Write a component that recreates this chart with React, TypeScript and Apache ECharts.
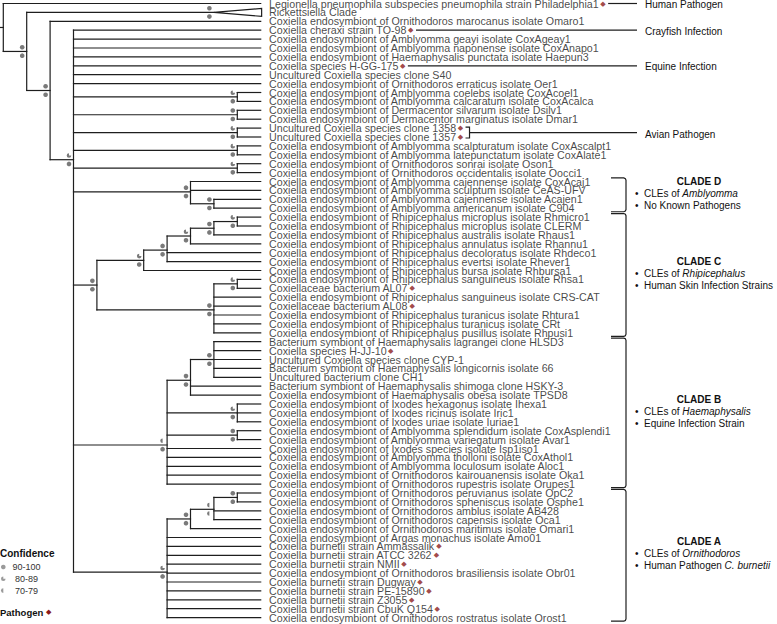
import React, { useEffect, useRef } from "react";
import * as echarts from "echarts";

const LEAF_NAMES: string[] = [
  "Legionella pneumophila subspecies pneumophila strain Philadelphia1",
  "Rickettsiella Clade",
  "Coxiella endosymbiont of Ornithodoros marocanus isolate Omaro1",
  "Coxiella cheraxi strain TO-98",
  "Coxiella endosymbiont of Amblyomma geayi isolate CoxAgeay1",
  "Coxiella endosymbiont of Amblyomma naponense isolate CoxAnapo1",
  "Coxiella endosymbiont of Haemaphysalis punctata isolate Haepun3",
  "Coxiella species H-GG-175",
  "Uncultured Coxiella species clone S40",
  "Coxiella endosymbiont of Ornithodoros erraticus isolate Oer1",
  "Coxiella endosymbiont of Amblyomma coelebs isolate CoxAcoel1",
  "Coxiella endosymbiont of Amblyomma calcaratum isolate CoxAcalca",
  "Coxiella endosymbiont of Dermacentor silvarum isolate Dsilv1",
  "Coxiella endosymbiont of Dermacentor marginatus isolate Dmar1",
  "Uncultured Coxiella species clone 1358",
  "Uncultured Coxiella species clone 1357",
  "Coxiella endosymbiont of Amblyomma scalpturatum isolate CoxAscalpt1",
  "Coxiella endosymbiont of Amblyomma latepunctatum isolate CoxAlate1",
  "Coxiella endosymbiont of Ornithodoros sonrai isolate Oson1",
  "Coxiella endosymbiont of Ornithodoros occidentalis isolate Oocci1",
  "Coxiella endosymbiont of Amblyomma cajennense isolate CoxAcaj1",
  "Coxiella endosymbiont of Amblyomma sculptum isolate CeAS-UFV",
  "Coxiella endosymbiont of Amblyomma cajennense isolate Acajen1",
  "Coxiella endosymbiont of Amblyomma americanum isolate C904",
  "Coxiella endosymbiont of Rhipicephalus microplus isolate Rhmicro1",
  "Coxiella endosymbiont of Rhipicephalus microplus isolate CLERM",
  "Coxiella endosymbiont of Rhipicephalus australis isolate Rhaus1",
  "Coxiella endosymbiont of Rhipicephalus annulatus isolate Rhannu1",
  "Coxiella endosymbiont of Rhipicephalus decoloratus isolate Rhdeco1",
  "Coxiella endosymbiont of Rhipicephalus evertsi isolate Rhever1",
  "Coxiella endosymbiont of Rhipicephalus bursa isolate Rhbursa1",
  "Coxiella endosymbiont of Rhipicephalus sanguineus isolate Rhsa1",
  "Coxiellaceae bacterium AL07",
  "Coxiella endosymbiont of Rhipicephalus sanguineus isolate CRS-CAT",
  "Coxiellaceae bacterium AL08",
  "Coxiella endosymbiont of Rhipicephalus turanicus isolate Rhtura1",
  "Coxiella endosymbiont of Rhipicephalus turanicus isolate CRt",
  "Coxiella endosymbiont of Rhipicephalus pusillus isolate Rhpusi1",
  "Bacterium symbiont of Haemaphysalis lagrangei clone HLSD3",
  "Coxiella species H-JJ-10",
  "Uncultured Coxiella species clone CYP-1",
  "Bacterium symbiont of Haemaphysalis longicornis isolate 66",
  "Uncultured bacterium clone CH1",
  "Bacterium symbiont of Haemaphysalis shimoga clone HSKY-3",
  "Coxiella endosymbiont of Haemaphysalis obesa isolate TPSD8",
  "Coxiella endosymbiont of Ixodes hexagonus isolate Ihexa1",
  "Coxiella endosymbiont of Ixodes ricinus isolate Iric1",
  "Coxiella endosymbiont of Ixodes uriae isolate Iuriae1",
  "Coxiella endosymbiont of Amblyomma splendidum isolate CoxAsplendi1",
  "Coxiella endosymbiont of Amblyomma variegatum isolate Avar1",
  "Coxiella endosymbiont of Ixodes species isolate Isp1iso1",
  "Coxiella endosymbiont of Amblyomma tholloni isolate CoxAthol1",
  "Coxiella endosymbiont of Amblyomma loculosum isolate Aloc1",
  "Coxiella endosymbiont of Ornithodoros kairouanensis isolate Oka1",
  "Coxiella endosymbiont of Ornithodoros rupestris isolate Orupes1",
  "Coxiella endosymbiont of Ornithodoros peruvianus isolate OpC2",
  "Coxiella endosymbiont of Ornithodoros spheniscus isolate Osphe1",
  "Coxiella endosymbiont of Ornithodoros amblus isolate AB428",
  "Coxiella endosymbiont of Ornithodoros capensis isolate Oca1",
  "Coxiella endosymbiont of Ornithodoros maritimus isolate Omari1",
  "Coxiella endosymbiont of Argas monachus isolate Amo01",
  "Coxiella burnetii strain Ammassalik",
  "Coxiella burnetii strain ATCC 3262",
  "Coxiella burnetii strain NMII",
  "Coxiella endosymbiont of Ornithodoros brasiliensis isolate Obr01",
  "Coxiella burnetii strain Dugway",
  "Coxiella burnetii strain PE-15890",
  "Coxiella burnetii strain Z3055",
  "Coxiella burnetii strain CbuK Q154",
  "Coxiella endosymbiont of Ornithodoros rostratus isolate Orost1",
];

const PATHOGEN_LEAVES: number[] = [0, 3, 7, 14, 15, 32, 34, 39, 61, 62, 63, 65, 66, 67, 68];

// support classes: 0 = 90-100, 1 = 80-89, 2 = 70-79
const F = 0, P = 1, H = 2;
const SUPPORT_LEGEND = [
  { kind: F, label: "90-100" },
  { kind: P, label: "80-89" },
  { kind: H, label: "70-79" },
];

const TIP_DEPTH = 11;
const COLLAPSED_LEAF = 1;
const COLLAPSED_APEX_DEPTH = 9;
const COLLAPSED_SUPPORT = [F, F];
const ROOT_STUB_DEPTH = -0.14;

type TNode = number | { d: number; s: number[] | null; c: TNode[] };
const n = (d: number, s: number[] | null, c: TNode[]): TNode => ({ d, s, c });

// cladogram topology; d = node depth level
const TREE: TNode = n(0, null, [
  0,
  n(1, [F, F], [
    1,
    n(2, [F, F], [
      2,
      n(3, [P, F], [
        3, 4, 5, 6, 7, 8, 9,
        n(10, [P, F], [10, 11]),
        n(10, [F, F], [12, 13]),
        n(10, [P, F], [14, 15]),
        n(10, [P, F], [16, 17]),
        n(10, [P, F], [18, 19]),
        // Clade D
        n(8, [F, F], [20, 21, n(9, [F, F], [22, 23])]),
        // Clade C
        n(4, [F, F], [
          n(6, [P, F], [
            n(7, [F, F], [
              n(8, [P, F], [
                n(9, [F, F], [n(10, [P, F], [24, 25]), 26]),
                27,
              ]),
              28, 29,
            ]),
            30,
          ]),
          n(9, [F, F], [n(10, [P, F], [31, 32]), 33, 34, 35, 36, 37]),
        ]),
        // Clade B
        n(7, [H, F], [
          n(8, [F, F], [n(9, [F, F], [38, 39, 40, 41, 42]), 43, 44]),
          n(10, [P, F], [45, 46, 47]),
          n(10, [F, F], [48, 49]),
          50, 51, 52, 53, 54,
        ]),
        // Clade A
        n(7, [P, F], [
          n(8, [F, F], [n(9, [H, H], [n(10, [F, F], [55, 56]), 57, 58]), 59]),
          60, 61, 62, 63, 64, 65, 66, 67, 68, 69,
        ]),
      ]),
    ]),
  ]),
]);

const SINGLE_ANNOTATIONS = [
  { leaf: 0, text: "Human Pathogen" },
  { leaf: 3, text: "Crayfish Infection" },
  { leaf: 7, text: "Equine Infection" },
];
const GROUP_ANNOTATIONS = [{ first: 14, last: 15, text: "Avian Pathogen" }];

const CLADES = [
  { title: "CLADE D", first: 20, last: 23, lines: [["CLEs of ", "Amblyomma"], ["No Known Pathogens", ""]] },
  { title: "CLADE C", first: 24, last: 37, lines: [["CLEs of ", "Rhipicephalus"], ["Human Skin Infection Strains", ""]] },
  { title: "CLADE B", first: 38, last: 54, lines: [["CLEs of ", "Haemaphysalis"], ["Equine Infection Strain", ""]] },
  { title: "CLADE A", first: 55, last: 69, lines: [["CLEs of ", "Ornithodoros"], ["Human Pathogen ", "C. burnetii"]] },
];

// ---- styling / layout constants ----
const W = 777, HGT = 624;
const UNIT_PX = 23.4;
const X_MAX = 33;
const LINE_COLOR = "#1e1e1e";
const LINE_W = 1.2;
const DOT_COLOR = "#7a7a7a";
const LEGEND_DOT_COLOR = "#9a9a9a";
const PATHOGEN_COLOR = "#8b1a1a";
const LEAF_FONT_SIZE = 10.7;
const LEAF_FONT = "Liberation Sans";
const LABEL_GAP = 8.3;
const DOT_R = 2.3;

function textWidth(text: string, font: string): number {
  const c = document.createElement("canvas").getContext("2d");
  if (!c) return text.length * 5.5;
  c.font = font;
  return c.measureText(text).width;
}

function buildTree() {
  const edges: number[][] = [];
  const dots: number[][] = [];
  const walk = (node: TNode): { y: number; d: number } => {
    if (typeof node === "number") {
      if (node === COLLAPSED_LEAF) {
        dots.push([COLLAPSED_APEX_DEPTH, node, COLLAPSED_SUPPORT[0], -1]);
        dots.push([COLLAPSED_APEX_DEPTH, node, COLLAPSED_SUPPORT[1], 1]);
        return { y: node, d: COLLAPSED_APEX_DEPTH };
      }
      return { y: node, d: TIP_DEPTH };
    }
    const kids = node.c.map(walk);
    const y = kids.reduce((a, k) => a + k.y, 0) / kids.length;
    edges.push([node.d, kids[0].y, node.d, kids[kids.length - 1].y]);
    kids.forEach((k) => edges.push([node.d, k.y, k.d, k.y]));
    if (node.s) {
      dots.push([node.d, y, node.s[0], -1]);
      dots.push([node.d, y, node.s[1], 1]);
    }
    return { y, d: node.d };
  };
  const root = walk(TREE);
  edges.push([ROOT_STUB_DEPTH, root.y, 0, root.y]);
  return { edges, dots };
}

function supportShape(cx: number, cy: number, kind: number, r: number, color: string): any {
  if (kind === F) return { type: "circle", shape: { cx, cy, r }, style: { fill: color } };
  const start = kind === P ? 0 : Math.PI / 2;
  return {
    type: "sector",
    shape: { cx, cy, r0: 0, r, startAngle: start, endAngle: (3 * Math.PI) / 2, clockwise: true },
    style: { fill: color },
  };
}

function buildOption() {
  const { edges, dots } = buildTree();
  const leafFontCss = `${LEAF_FONT_SIZE}px "${LEAF_FONT}"`;
  const diamondW = textWidth("\u25C6", '7px "DejaVu Sans"') + 1.5;

  const annotationRender = (params: any, api: any) => {
    if (params.dataIndex !== 0) return null;
    const children: any[] = [];
    const yOf = (i: number) => api.coord([0, i])[1];
    const labelX = api.coord([TIP_DEPTH, 0])[0] + LABEL_GAP;
    const lineEnd = 637, annX = 645;
    const labelEnd = (i: number) => labelX + textWidth(LEAF_NAMES[i], leafFontCss) + diamondW;
    const annText = (x: number, y: number, text: string) => ({
      type: "text", x, y,
      style: { text, fontFamily: "Liberation Sans", fontSize: 10, fill: "#111", align: "left", verticalAlign: "middle" },
    });
    const ln = (x1: number, y1: number, x2: number, y2: number) => ({
      type: "line", shape: { x1, y1, x2, y2 }, style: { stroke: LINE_COLOR, lineWidth: LINE_W },
    });
    SINGLE_ANNOTATIONS.forEach((a) => {
      const y = yOf(a.leaf);
      children.push(ln(labelEnd(a.leaf) + 2.5, y, lineEnd, y));
      children.push(annText(annX, y + 1, a.text));
    });
    GROUP_ANNOTATIONS.forEach((a) => {
      const y1 = yOf(a.first), y2 = yOf(a.last);
      let ex = 0;
      for (let i = a.first; i <= a.last; i++) ex = Math.max(ex, labelEnd(i));
      const bx0 = ex + 2.5, bx1 = ex + 6.5;
      children.push({
        type: "polyline",
        shape: { points: [[bx0, y1 - 1], [bx1, y1 - 1], [bx1, y2 + 1], [bx0, y2 + 1]] },
        style: { stroke: LINE_COLOR, lineWidth: LINE_W, fill: "none" },
      });
      const ym = (y1 + y2) / 2;
      children.push(ln(bx1, ym, lineEnd, ym));
      children.push(annText(annX, ym + 1.5, a.text));
    });
    const bx0 = 611, bx1 = 626, rr = 2.2;
    CLADES.forEach((c) => {
      const y1 = yOf(c.first) - 0.4 * (yOf(1) - yOf(0));
      const y2 = yOf(c.last) + 0.4 * (yOf(1) - yOf(0));
      children.push({
        type: "polyline",
        shape: {
          points: [
            [bx0, y1], [bx1 - rr, y1], [bx1 - rr * 0.3, y1 + rr * 0.3], [bx1, y1 + rr],
            [bx1, y2 - rr], [bx1 - rr * 0.3, y2 - rr * 0.3], [bx1 - rr, y2], [bx0, y2],
          ],
        },
        style: { stroke: LINE_COLOR, lineWidth: LINE_W, fill: "none" },
      });
      const mid = (y1 + y2) / 2 - 1.5;
      children.push({
        type: "text", x: 699, y: mid - 12,
        style: { text: c.title, fontFamily: "Liberation Sans", fontWeight: "bold", fontSize: 10, fill: "#111", align: "center", verticalAlign: "middle" },
      });
      c.lines.forEach((l, k) => {
        const yy = mid + k * 12;
        children.push({
          type: "text", x: 635, y: yy,
          style: { text: "\u2022", fontFamily: "Liberation Sans", fontSize: 10, fill: "#111", align: "left", verticalAlign: "middle" },
        });
        const rich = l[1] ? `{n|${l[0]}}{i|${l[1]}}` : `{n|${l[0]}}`;
        children.push({
          type: "text", x: 644, y: yy,
          style: {
            text: rich, align: "left", verticalAlign: "middle",
            rich: {
              n: { fontFamily: "Liberation Sans", fontSize: 10, fill: "#111", color: "#111" },
              i: { fontFamily: "Liberation Sans", fontSize: 10, fontStyle: "italic", fill: "#111", color: "#111" },
            },
          },
        });
      });
    });
    return { type: "group", children };
  };

  const legendY0 = 553;
  const graphicEls: any[] = [
    {
      type: "text", x: 0, y: legendY0,
      style: { text: "Confidence", fontFamily: "Liberation Sans", fontWeight: "bold", fontSize: 10, fill: "#111", verticalAlign: "middle" },
    },
  ];
  SUPPORT_LEGEND.forEach((s, k) => {
    const y = legendY0 + 14 + k * 11.8;
    graphicEls.push(supportShape(3.3, y, s.kind, 2.3, LEGEND_DOT_COLOR));
    graphicEls.push({
      type: "text", x: 26.5, y,
      style: { text: s.label, fontFamily: "Liberation Sans", fontSize: 9, fill: "#333", align: "center", verticalAlign: "middle" },
    });
  });
  graphicEls.push({
    type: "text", x: 0, y: 612,
    style: { text: "Pathogen", fontFamily: "Liberation Sans", fontWeight: "bold", fontSize: 9.5, fill: "#111", verticalAlign: "middle" },
  });
  graphicEls.push({
    type: "text", x: 46, y: 612,
    style: { text: "\u25C6", fontFamily: "DejaVu Sans", fontSize: 7, fill: PATHOGEN_COLOR, verticalAlign: "middle" },
  });

  return {
    animation: false,
    backgroundColor: "#fff",
    grid: { left: 3.3, right: W - 3.3 - X_MAX * UNIT_PX, top: 3.5, bottom: 6.4 },
    xAxis: { type: "value", min: 0, max: X_MAX, show: false },
    yAxis: { type: "value", min: 0, max: LEAF_NAMES.length - 1, inverse: true, show: false },
    graphic: { elements: graphicEls },
    series: [
      {
        type: "custom",
        name: "branches",
        silent: true,
        data: edges,
        renderItem: (params: any, api: any) => {
          const a = api.coord([api.value(0), api.value(1)]);
          const b = api.coord([api.value(2), api.value(3)]);
          return {
            type: "line",
            shape: { x1: a[0], y1: a[1], x2: b[0], y2: b[1] },
            style: { stroke: LINE_COLOR, lineWidth: LINE_W, lineCap: "square" },
          };
        },
      },
      {
        type: "custom",
        name: "collapsed",
        silent: true,
        data: [[COLLAPSED_APEX_DEPTH, COLLAPSED_LEAF]],
        renderItem: (params: any, api: any) => {
          const apex = api.coord([api.value(0), api.value(1)]);
          const top = api.coord([TIP_DEPTH + 0.04, api.value(1) - 0.45]);
          const bot = api.coord([TIP_DEPTH + 0.04, api.value(1) + 0.45]);
          return {
            type: "polygon",
            shape: { points: [apex, top, bot] },
            style: { fill: "#fff", stroke: LINE_COLOR, lineWidth: LINE_W },
          };
        },
      },
      {
        type: "custom",
        name: "support",
        silent: true,
        data: dots,
        renderItem: (params: any, api: any) => {
          const p = api.coord([api.value(0), api.value(1)]);
          return supportShape(p[0] - 4.5, p[1] + api.value(3) * 4.2, api.value(2), DOT_R, DOT_COLOR);
        },
      },
      {
        type: "scatter",
        name: "leaves",
        silent: true,
        symbolSize: 0,
        data: LEAF_NAMES.map((name, i) => ({ value: [TIP_DEPTH, i], name })),
        label: {
          show: true,
          position: "right",
          distance: LABEL_GAP,
          lineHeight: 8.9,
          formatter: (p: any) =>
            PATHOGEN_LEAVES.includes(p.dataIndex) ? `{t|${p.name}}{d|\u25C6}` : `{t|${p.name}}`,
          rich: {
            t: { fontFamily: LEAF_FONT, fontSize: LEAF_FONT_SIZE, color: "#161616", lineHeight: 8.9 },
            d: { fontFamily: "DejaVu Sans", fontSize: 7, color: PATHOGEN_COLOR, padding: [0, 0, 0, 1.5], lineHeight: 8.9 },
          },
        },
      },
      {
        type: "custom",
        name: "annotations",
        silent: true,
        data: [[0, 0]],
        renderItem: annotationRender,
      },
    ],
  };
}

export default function App() {
  const ref = useRef<HTMLDivElement>(null);
  useEffect(() => {
    if (!ref.current) return;
    const chart = echarts.init(ref.current, null, { renderer: "svg" });
    chart.setOption(buildOption() as any);
    return () => chart.dispose();
  }, []);
  return (
    <div
      ref={ref}
      style={{ position: "absolute", left: 0, top: 0, width: W, height: HGT, background: "#fff" }}
    />
  );
}
